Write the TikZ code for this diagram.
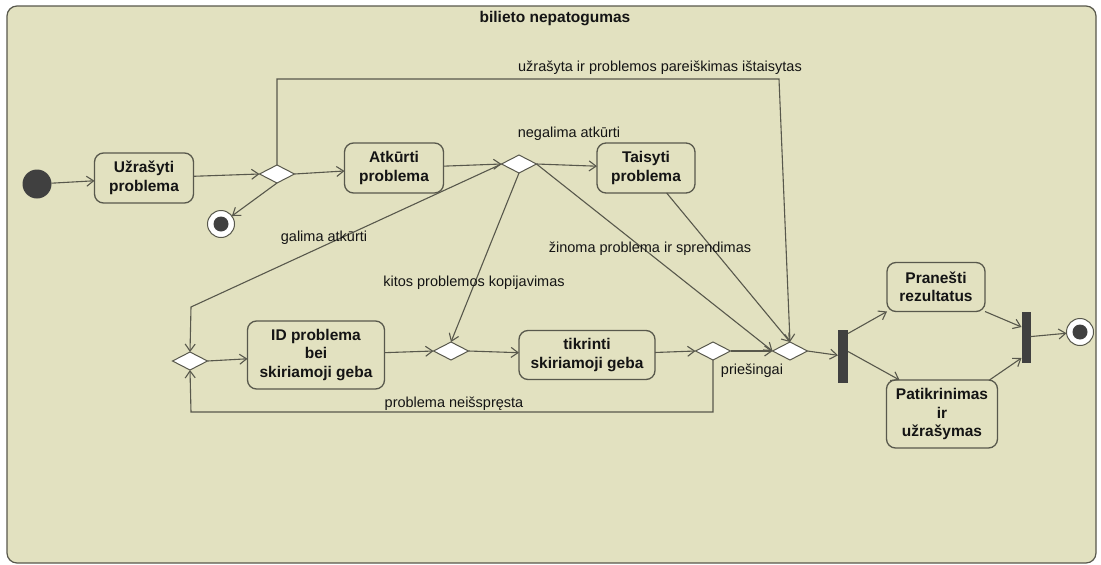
\documentclass[tikz,border=0pt]{standalone}
\usepackage{fontspec}
\setmainfont{Liberation Sans}
\usetikzlibrary{arrows.meta,shapes.geometric}
\definecolor{panel}{RGB}{226,225,192}
\definecolor{edge}{RGB}{88,88,76}
\definecolor{ink}{RGB}{20,20,20}
\definecolor{bar}{RGB}{64,64,64}

\begin{document}
\begin{tikzpicture}[x=1pt,y=-1pt,
  every node/.style={inner sep=0pt, outer sep=0pt},
  action/.style={draw=edge, line width=1.3pt, rounded corners=9pt, fill=panel,
    align=center, font=\fontsize{15.5}{18.5}\selectfont\bfseries, text=ink},
  choice/.style={diamond, draw=edge, line width=1pt, fill=white, aspect=1.9,
    minimum width=35pt, minimum height=18pt},
  flow/.style={draw=edge, line width=1.1pt, -{Straight Barb[length=7pt,width=10pt]}},
  guard/.style={font=\fontsize{14.5}{17}\selectfont, text=ink},
  startdot/.style={circle, fill=bar, minimum size=29pt},
  enddot/.style={circle, draw=edge, line width=1pt, fill=white, minimum size=27pt,
    path picture={\fill[bar] (path picture bounding box.center) circle (7.5pt);}},
  forkbar/.style={fill=bar, minimum width=10pt, minimum height=53pt},
]
% canvas and activity frame
\useasboundingbox (0,0) rectangle (1101,565);
\fill[white] (0,0) rectangle (1101,565);
\draw[draw=edge, line width=1.2pt, fill=panel, rounded corners=10pt] (7,6) rectangle (1096,563);
\node[font=\fontsize{15.5}{18}\selectfont\bfseries, text=ink] (title) at (555,19) {bilieto nepatogumas};

% activity nodes
\node[startdot] (init) at (37,184) {};
\node[action, minimum width=99pt, minimum height=50pt] (write) at (144,178) {Užrašyti\\problema};
\node[choice] (d1) at (277,174) {};
\node[enddot] (end1) at (221,224) {};
\node[action, minimum width=99pt, minimum height=50pt] (repro) at (394,168) {Atkūrti\\problema};
\node[choice] (d2) at (519,164) {};
\node[action, minimum width=98pt, minimum height=50pt] (fix) at (646,168) {Taisyti\\problema};
\node[choice] (d3) at (190,361) {};
\node[action, minimum width=137pt, minimum height=68pt] (idp) at (316,355) {ID problema\\bei\\skiriamoji geba};
\node[choice] (d4) at (451,351) {};
\node[action, minimum width=136pt, minimum height=49pt] (check) at (587,355) {tikrinti\\skiriamoji geba};
\node[choice] (d5) at (713,351) {};
\node[choice] (d6) at (790,351) {};
\node[forkbar] (fork) at (843,356) {};
\node[action, minimum width=98pt, minimum height=49pt] (report) at (936,287) {Pranešti\\rezultatus};
\node[action, minimum width=111pt, minimum height=68pt] (verify) at (942,414) {Patikrinimas\\ir\\užrašymas};
\node[forkbar, minimum width=9pt, minimum height=51pt] (join) at (1026,337) {};
\node[enddot] (end2) at (1080,332) {};

% bend points
\coordinate (c1) at (779,79);
\coordinate (c2) at (191,307);
\coordinate (c3) at (191,412);

% flows
\draw[flow] (init) -- (write);
\draw[flow] (write) -- (d1.west);
\draw[flow] (d1.south) -- (end1);
\draw[flow] (d1.east) -- (repro);
\draw[flow] (d1.north) |- (c1) -- (d6.north);
\draw[flow] (repro) -- (d2.west);
\draw[flow] (d2.east) -- (fix);
\draw[flow] (d2.west) -- (c2) -- (d3.north);
\draw[flow] (d2.south) -- (d4.north);
\draw[flow] (d2.east) -- (d6.west);
\draw[flow] (fix) -- (d6.north);
\draw[flow] (d3.east) -- (idp);
\draw[flow] (idp) -- (d4.west);
\draw[flow] (d4.east) -- (check);
\draw[flow] (check) -- (d5.west);
\draw[flow] (d5.east) -- (d6.west);
\draw[flow] (d5.south) |- (c3) -- (d3.south);
\draw[flow] (d6.east) -- (fork);
\draw[flow] ([yshift=-4pt]fork.north east) -- (report.south west);
\draw[flow] ([yshift=-22pt]fork.north east) -- ([xshift=13pt]verify.north west);
\draw[flow] (report.south east) -- ([yshift=10pt]join.west);
\draw[flow] ([xshift=-8pt]verify.north east) -- ([yshift=-21pt]join.west);
\draw[flow] (join) -- (end2);

% guard labels
\node[guard] (g1) at (660,68) {užrašyta ir problemos pareiškimas ištaisytas};
\node[guard] (g2) at (569,134) {negalima atkūrti};
\node[guard] (g3) at (324,238) {galima atkūrti};
\node[guard] (g4) at (650,249) {žinoma problema ir sprendimas};
\node[guard] (g5) at (474,283) {kitos problemos kopijavimas};
\node[guard] (g6) at (454,404) {problema neišspręsta};
\node[guard] (g7) at (752,371) {priešingai};
\end{tikzpicture}
\end{document}
